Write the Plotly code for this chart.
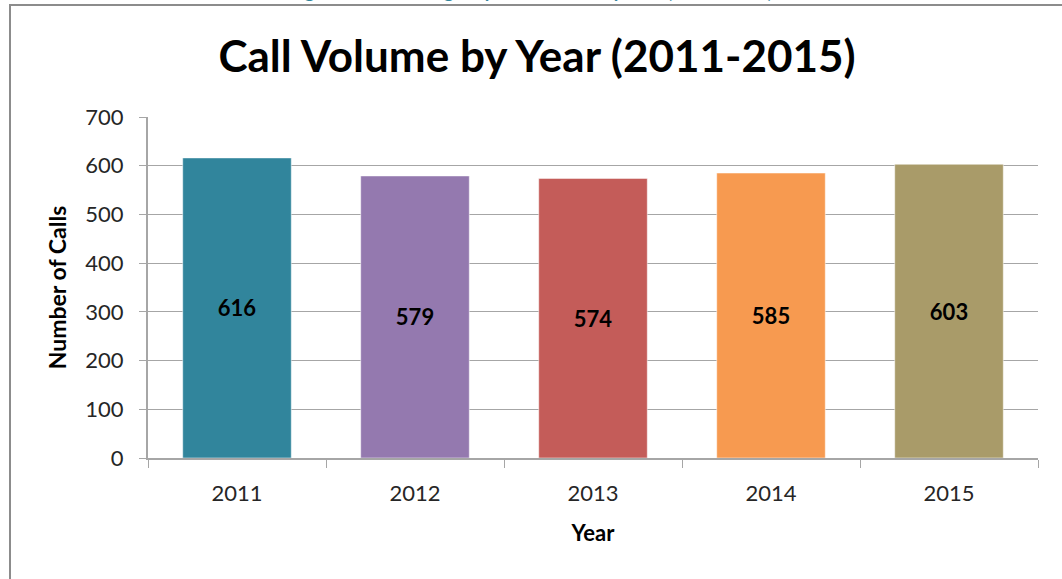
import plotly.graph_objects as go

years = ["2011", "2012", "2013", "2014", "2015"]
calls = [616, 579, 574, 585, 603]
bar_colors = ["#31859C", "#9479AF", "#C45C59", "#F79A50", "#A99B69"]
y_ticks = [0, 100, 200, 300, 400, 500, 600, 700]

W, H = 1062, 579
L, R, T, B = 148, 24, 117, 121
pw, ph = W - L - R, H - T - B

def px_x(x):
    return (x - L) / pw

def px_y(y):
    return 1 - (y - T) / ph

FONT = "Lato"

fig = go.Figure(go.Bar(
    x=years, y=calls,
    marker=dict(color=bar_colors, line=dict(color="rgba(255,255,255,0.5)", width=1)),
    text=[str(v) for v in calls],
    textposition="inside", insidetextanchor="middle", textangle=0,
    textfont=dict(family=FONT, size=22, color="black", weight="bold"),
    width=0.61,
))

fig.update_layout(
    width=W, height=H,
    margin=dict(l=L, r=R, t=T, b=B),
    paper_bgcolor="white", plot_bgcolor="white",
    showlegend=False,
    title=dict(text="<b>Call Volume by Year (2011-2015)</b>", x=px_x(537), xref="paper",
               xanchor="center", y=1 - 57 / H, yanchor="middle",
               font=dict(family=FONT, size=44, color="black")),
    xaxis=dict(
        showline=True, linecolor="#A6A6A6", linewidth=2,
        ticks="outside", tickson="boundaries", ticklen=8, tickcolor="#A6A6A6", tickwidth=1,
        tickfont=dict(family=FONT, size=22, color="#262626"),
        ticklabelstandoff=15,
        showgrid=False,
        title=dict(text="<b>Year</b>", font=dict(family=FONT, size=22, color="black"), standoff=20),
    ),
    yaxis=dict(
        range=[0, 700], tickvals=y_ticks,
        showline=True, linecolor="#A6A6A6", linewidth=2,
        ticks="outside", ticklen=7, tickcolor="#A6A6A6", tickwidth=1,
        showgrid=True, gridcolor="#A6A6A6", gridwidth=1,
        zeroline=False,
        tickfont=dict(family=FONT, size=22, color="#262626"),
        ticklabelstandoff=11,
        title=dict(text="<b>Number of Calls</b>", font=dict(family=FONT, size=23, color="black"), standoff=12),
    ),
    shapes=[dict(type="rect", xref="paper", yref="paper",
                 x0=px_x(10), y0=px_y(5), x1=px_x(1100), y1=px_y(620),
                 line=dict(color="#8C8C8C", width=2), fillcolor="rgba(0,0,0,0)", layer="below")],
    annotations=[dict(text="<b>Figure 5: Annual Agency Call Volume by Year (2011-2015)</b>",
                      xref="paper", yref="paper", x=px_x(531), y=px_y(4), yanchor="bottom",
                      xanchor="center", showarrow=False,
                      font=dict(family=FONT, size=19, color="#31859C"))],
)

fig.write_html("out.html", config={"displayModeBar": False},
               post_script="document.body.style.margin='0';")
